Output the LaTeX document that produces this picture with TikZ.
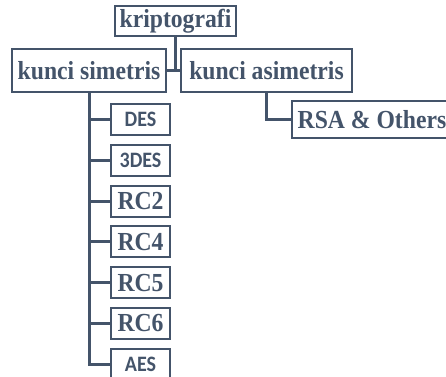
\documentclass[tikz,border=0pt]{standalone}
\usepackage{fontspec}
\setmainfont{Liberation Serif}[FakeStretch=0.91]
\newfontfamily\calib{Carlito}[FakeStretch=0.91]
\definecolor{slate}{HTML}{44546A}
\begin{document}
\begin{tikzpicture}[x=1pt,y=-1pt,
  box/.style={draw=slate, line width=2pt, fill=white, inner sep=0pt,
    text=slate, font=\fontsize{26}{28}\selectfont\bfseries},
  algo/.style={box, minimum width=59, minimum height=31},
  algosans/.style={algo, font=\fontsize{22}{24}\calib\bfseries},
  link/.style={draw=slate, line width=3pt}]
\useasboundingbox (0,0) rectangle (446,376);
% root and the two kinds of keys
\node[box, minimum width=121, minimum height=30] (krip) at (175.5,21) {kriptografi};
\node[box, minimum width=154, minimum height=43] (sim) at (89,70.5) {kunci simetris};
\node[box, minimum width=171, minimum height=43] (asim) at (266.5,70.5) {kunci asimetris};
\node[box, minimum width=160, minimum height=37] (rsa) at (372,119.5) {RSA \& Others};
% symmetric algorithms
\node[algosans] (des)  at (140.5,119.5) {DES};
\node[algosans] (tdes) at (140.5,160.3) {3DES};
\node[algo]     (rc2)  at (140.5,201.1) {RC2};
\node[algo]     (rc4)  at (140.5,241.9) {RC4};
\node[algo]     (rc5)  at (140.5,282.7) {RC5};
\node[algo]     (rc6)  at (140.5,323.5) {RC6};
\node[algosans] (aes)  at (140.5,364.3) {AES};
% connectors
\draw[link] (krip.south) -- (krip.south |- sim.east);
\draw[link] (sim.east) -- (asim.west);
\draw[link] (asim.south) |- (rsa.west);
\foreach \n in {des,tdes,rc2,rc4,rc5,rc6,aes}
  \draw[link] (sim.south) |- (\n.west);
\end{tikzpicture}
\end{document}
